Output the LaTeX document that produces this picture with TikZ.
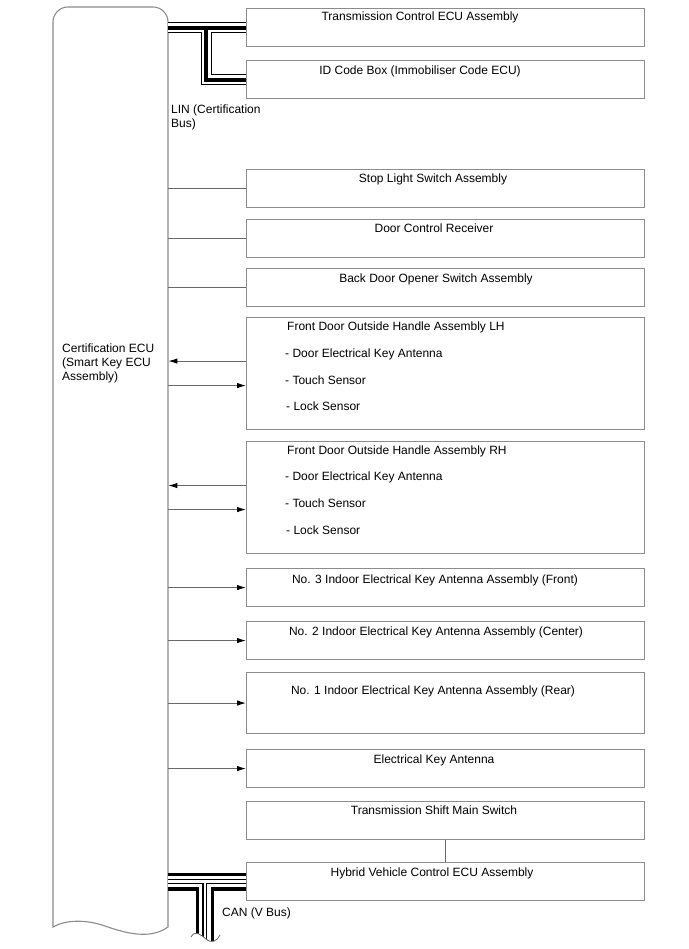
\documentclass[tikz,border=0pt]{standalone}
\usepackage{fontspec}
\setmainfont{Liberation Sans}
\usetikzlibrary{arrows.meta,calc}
\definecolor{boxgray}{RGB}{140,140,140}
\definecolor{linegray}{RGB}{105,105,105}
\begin{document}
\begin{tikzpicture}[x=1pt,y=-1pt,
  box/.style={draw=boxgray, line width=1.1pt, inner sep=0pt, minimum width=398pt, anchor=north west},
  conn/.style={draw=linegray, line width=1pt},
  tipr/.style={-{Latex[length=9pt,width=5.5pt,black]}},
  lbl/.style={inner sep=0pt, anchor=base, font=\fontsize{12}{14}\selectfont},
  lbll/.style={lbl, anchor=base west}]
\useasboundingbox (0,0) rectangle (688,949);
\fill[white] (0,0) rectangle (688,949);

% ECU
\node[inner sep=0pt, minimum width=115pt, minimum height=920pt, anchor=north west] (ecu) at (53,7) {};
\draw[draw=boxgray, line width=1.1pt] (53,927) -- (53,22) .. controls (53,13.7) and (59.7,7) .. (68,7) -- (153,7)
  .. controls (161.3,7) and (168,13.7) .. (168,22) -- (168,927)
  .. controls (150,940) and (125,933) .. (105,926) .. controls (85,919) and (65,920) .. (53,927) -- cycle;
\node[lbll] (ecut1) at (62,352) {Certification ECU};
\node[lbll] (ecut2) at (62,366) {(Smart Key ECU};
\node[lbll] (ecut3) at (62,380) {Assembly)};

% boxes
\node[box, minimum height=38pt] (b1) at (246,8) {};
\node[box, minimum height=38pt] (b2) at (246,60) {};
\node[box, minimum height=38pt] (b3) at (246,169) {};
\node[box, minimum height=38pt] (b4) at (246,219) {};
\node[box, minimum height=38pt] (b5) at (246,268) {};
\node[box, minimum height=112pt] (b6) at (246,317) {};
\node[box, minimum height=112pt] (b7) at (246,441) {};
\node[box, minimum height=38pt] (b8) at (246,568) {};
\node[box, minimum height=38pt] (b9) at (246,621) {};
\node[box, minimum height=61pt] (b10) at (246,672) {};
\node[box, minimum height=38pt] (b11) at (246,749) {};
\node[box, minimum height=38pt] (b12) at (246,801) {};
\node[box, minimum height=38pt] (b13) at (246,862) {};

% labels
\node[lbl] (t1) at (420,21) {Transmission Control ECU Assembly};
\node[lbl] (t2) at (420,75) {ID Code Box (Immobiliser Code ECU)};
\node[lbl] (t3) at (433,183) {Stop Light Switch Assembly};
\node[lbl] (t4) at (434,233) {Door Control Receiver};
\node[lbl] (t5) at (436,283) {Back Door Opener Switch Assembly};
\node[lbll] (t6a) at (287,330) {Front Door Outside Handle Assembly LH};
\node[lbll] (t6b) at (285,357) {- Door Electrical Key Antenna};
\node[lbll] (t6c) at (285,384) {- Touch Sensor};
\node[lbll] (t6d) at (286,410) {- Lock Sensor};
\node[lbll] (t7a) at (287,454) {Front Door Outside Handle Assembly RH};
\node[lbll] (t7b) at (285,480) {- Door Electrical Key Antenna};
\node[lbll] (t7c) at (285,507) {- Touch Sensor};
\node[lbll] (t7d) at (286,534) {- Lock Sensor};
\node[lbl] (t8) at (435,583) {No. 3 Indoor Electrical Key Antenna Assembly (Front)};
\node[lbl] (t9) at (436,635) {No. 2 Indoor Electrical Key Antenna Assembly (Center)};
\node[lbl] (t10) at (433,694) {No. 1 Indoor Electrical Key Antenna Assembly (Rear)};
\node[lbl] (t11) at (434,763) {Electrical Key Antenna};
\node[lbl] (t12) at (434,814) {Transmission Shift Main Switch};
\node[lbl] (t13) at (432,876) {Hybrid Vehicle Control ECU Assembly};

\node[lbll] (lin1) at (171,114) {LIN (Certification};
\node[lbll] (lin2) at (171,128) {Bus)};
\node[lbll] (can) at (222,916) {CAN (V Bus)};

% plain connectors
\draw[conn] (b3.west -| ecu.east) -- (b3.west);
\draw[conn] (b4.west -| ecu.east) -- (b4.west);
\draw[conn] (b5.west -| ecu.east) -- (b5.west);
\draw[conn] (b12.south) -- (b13.north);

% arrows
\draw[conn, tipr] ([yshift=12.5pt]b6.west) -- ([yshift=12.5pt]b6.west -| ecu.east);
\draw[conn, tipr] ([yshift=-12pt]b6.west -| ecu.east) -- ([yshift=-12pt]b6.west);
\draw[conn, tipr] ([yshift=12pt]b7.west) -- ([yshift=12pt]b7.west -| ecu.east);
\draw[conn, tipr] ([yshift=-12pt]b7.west -| ecu.east) -- ([yshift=-12pt]b7.west);
\draw[conn, tipr] (b8.west -| ecu.east) -- (b8.west);
\draw[conn, tipr] (b9.west -| ecu.east) -- (b9.west);
\draw[conn, tipr] (b10.west -| ecu.east) -- (b10.west);
\draw[conn, tipr] (b11.west -| ecu.east) -- (b11.west);

% LIN bus
\coordinate (linj) at ($(b1.west -| ecu.east)!0.49!(b1.west)$);
\foreach \w/\c in {11.5/black,8.6/white,4/black}{
  \draw[line width=\w pt, \c, line join=miter] (b1.west -| ecu.east) -- (b1.west);
  \draw[line width=\w pt, \c, line join=miter] (linj) -- (linj |- b2.west) -- (b2.west);
}

% CAN bus
\coordinate (canj) at ($(b13.west -| ecu.east)!0.47!(b13.west)$);
\coordinate (canend) at ($(canj)+(0,62)$);
\begin{scope}
\clip (160,860) -- (250,860) -- (250,900) -- (222,900) -- (220,935)
  .. controls (217,941) and (212,944) .. (206,939) .. controls (200,934) and (195,930) .. (191,937)
  -- (188,900) -- (160,900) -- cycle;
\foreach \w/\c in {18/black,11.4/white,5/black,2.6/white}{
  \draw[line width=\w pt, \c] (b13.west -| ecu.east) -- (b13.west);
  \draw[line width=\w pt, \c] (canj) -- (canend);
}
\end{scope}
\draw[draw=linegray, line width=0.8pt] (191,937) .. controls (195,930) and (200,934) .. (206,939) .. controls (212,944) and (217,941) .. (220,935);
\end{tikzpicture}
\end{document}
